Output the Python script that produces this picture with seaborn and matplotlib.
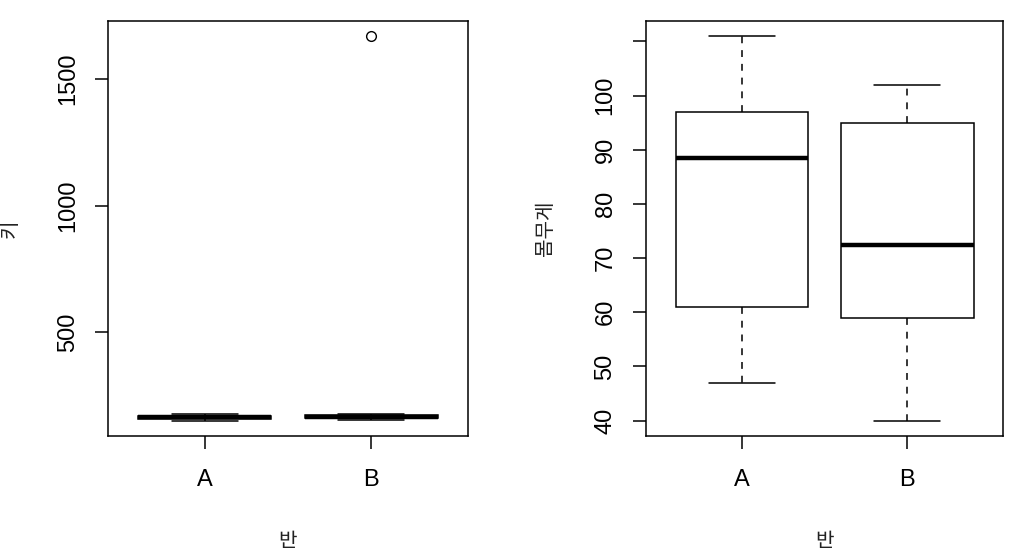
import matplotlib
matplotlib.use("Agg")
import pandas as pd
import seaborn as sns
import matplotlib.pyplot as plt

sns.set_theme(style="white")
plt.rcParams['font.family'] = ['Liberation Sans', 'Noto Sans CJK KR', 'DejaVu Sans']

# data
classes = ["A", "B"]
height_a = [150, 155, 158, 161, 164, 167, 170, 173, 176]
height_b = [152, 156, 159, 162, 165, 168, 171, 178, 1670]
weight_a = [47, 52, 61, 75, 88.5, 92, 97, 105, 111]
weight_b = [40, 50, 59, 65, 72.5, 80, 95, 99, 102]

df = pd.DataFrame({
    "반": ["A"] * len(height_a) + ["B"] * len(height_b),
    "키": height_a + height_b,
    "몸무게": weight_a + weight_b,
})

kor = ['Noto Sans CJK KR', 'DejaVu Sans']
box_kw = dict(
    order=classes, color="white", linecolor="black", linewidth=1.1,
    width=0.8, whis=1.5, saturation=1,
    medianprops=dict(linewidth=3.2, color="black"),
    whiskerprops=dict(linestyle=(0, (4.5, 4.5)), color="black"),
    capprops=dict(color="black"),
    flierprops=dict(marker="o", markerfacecolor="none", markeredgecolor="black",
                    markersize=7, markeredgewidth=1),
)

W, H = 1017, 558
fig = plt.figure(figsize=(W / 100, H / 100), dpi=100)
ax1 = fig.add_axes([108.3 / W, (H - 436) / H, 359.4 / W, 415.3 / H])
ax2 = fig.add_axes([646 / W, (H - 436) / H, 357.3 / W, 415.3 / H])

panels = [
    (ax1, "키", [500, 1000, 1500], ["500", "1000", "1500"], -0.2735),
    (ax2, "몸무게", [40, 50, 60, 70, 80, 90, 100, 110],
     ["40", "50", "60", "70", "80", "90", "100", ""], -0.28),
]

for ax, col, ticks, labels, ylab_x in panels:
    sns.boxplot(data=df, x="반", y=col, ax=ax, **box_kw)
    lo, hi = df[col].min(), df[col].max()
    pad = (hi - lo) * 0.04
    ax.set_ylim(lo - pad, hi + pad)
    ax.set_xlim(-0.58, 1.58)
    ax.set_yticks(ticks, labels, rotation=90, va="center", fontsize=17)
    ax.set_xticks([0, 1], classes, fontsize=17)
    ax.tick_params(axis="both", direction="out", length=9.7, width=1.1,
                   color="black", labelcolor="black", bottom=True, left=True)
    ax.tick_params(axis="x", pad=14)
    ax.tick_params(axis="y", pad=11.5)
    for s in ax.spines.values():
        s.set_visible(True)
        s.set_color("black")
        s.set_linewidth(1.1)
    ax.set_xlabel("반", fontsize=14.5, family=kor, color="#222222")
    ax.xaxis.set_label_coords(0.5, -105 / 415.3)
    ax.xaxis.label.set_va("center")
    ax.set_ylabel(col, fontsize=14.5, family=kor, color="#222222")
    ax.yaxis.set_label_coords(ylab_x, 0.5)
    ax.yaxis.label.set_va("center")
    ax.grid(False)

fig.savefig("out.png", dpi=100, facecolor="white")
